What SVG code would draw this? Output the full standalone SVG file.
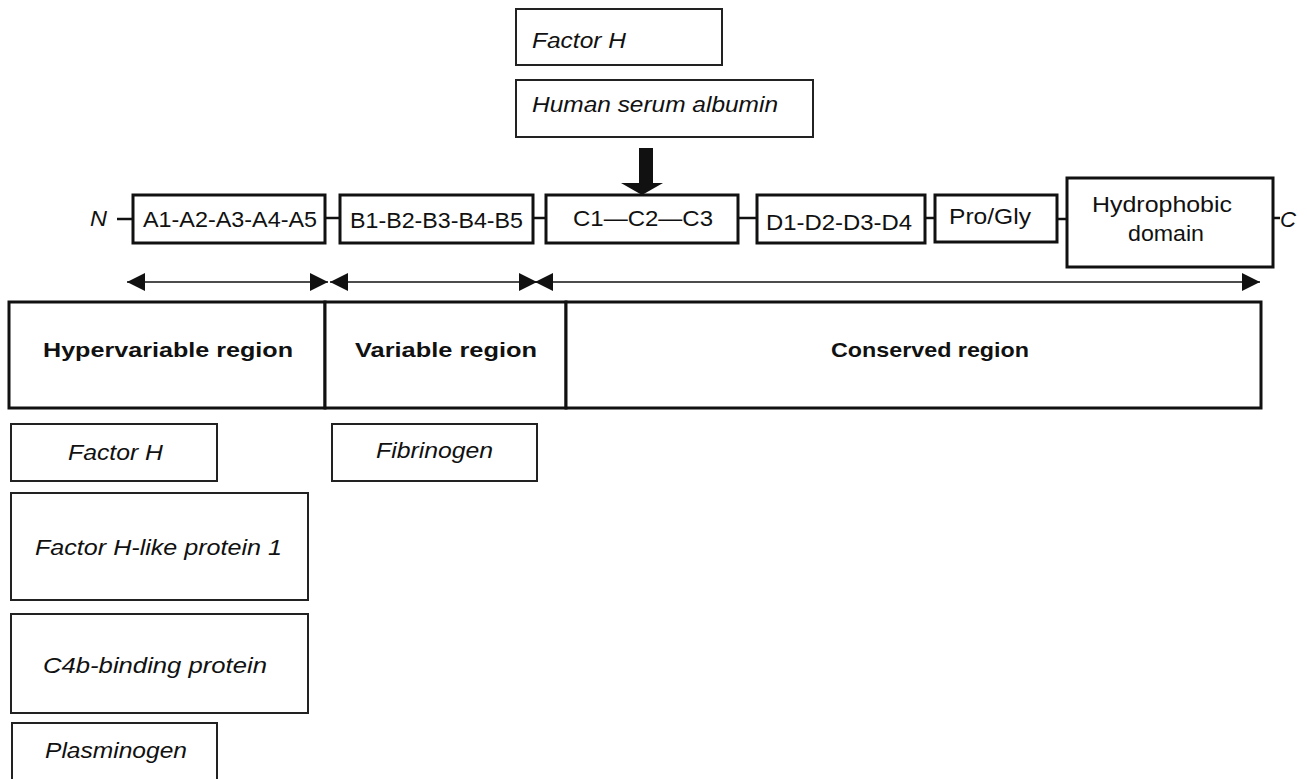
<svg xmlns="http://www.w3.org/2000/svg" width="1307" height="779" viewBox="0 0 1307 779">
<style>
text{font-family:"Liberation Sans",Arial,sans-serif;font-size:22px;fill:#111}
.it{font-style:italic}
.bd{font-weight:bold;font-size:21px}
.dom{fill:#fff;stroke:#111;stroke-width:3}
.reg{fill:#fff;stroke:#111;stroke-width:3}
.bind{fill:#fff;stroke:#222;stroke-width:2}
.link{stroke:#111;stroke-width:2.5;fill:none}
.span{stroke:#111;stroke-width:1.5;fill:none;marker-start:url(#ah);marker-end:url(#ah)}
</style>
<defs>
<marker id="ah" viewBox="0 0 18 18" refX="18" refY="9" markerWidth="18" markerHeight="18" markerUnits="userSpaceOnUse" orient="auto-start-reverse">
<path d="M0,0 L18,9 L0,18 z" fill="#111"/>
</marker>
</defs>

<g id="top-factorH"><rect class="bind" x="516" y="9" width="206" height="56"/><text class="it" x="532" y="48" textLength="94" lengthAdjust="spacingAndGlyphs">Factor H</text></g>
<g id="top-hsa"><rect class="bind" x="516" y="80" width="297" height="57"/><text class="it" x="532" y="112" textLength="246" lengthAdjust="spacingAndGlyphs">Human serum albumin</text></g>

<g id="N-term"><text class="it" x="90" y="226" textLength="17" lengthAdjust="spacingAndGlyphs">N</text></g>
<g id="A"><rect class="dom" x="133" y="195" width="192" height="48"/><text x="143" y="227" textLength="174" lengthAdjust="spacingAndGlyphs">A1-A2-A3-A4-A5</text></g>
<g id="B"><rect class="dom" x="340" y="195" width="193" height="48"/><text x="350" y="228" textLength="173" lengthAdjust="spacingAndGlyphs">B1-B2-B3-B4-B5</text></g>
<g id="C"><rect class="dom" x="546" y="195" width="192" height="48"/><text x="573" y="226" textLength="140" lengthAdjust="spacingAndGlyphs">C1—C2—C3</text></g>
<g id="D"><rect class="dom" x="757" y="195" width="168" height="48"/><text x="766" y="230" textLength="146" lengthAdjust="spacingAndGlyphs">D1-D2-D3-D4</text></g>
<g id="ProGly"><rect class="dom" x="935" y="195" width="122" height="47"/><text x="949" y="224" textLength="82" lengthAdjust="spacingAndGlyphs">Pro/Gly</text></g>
<g id="Hydrophobic"><rect class="dom" x="1067" y="178" width="206" height="89"/><text x="1162" y="212" text-anchor="middle" textLength="140" lengthAdjust="spacingAndGlyphs">Hydrophobic</text><text x="1166" y="241" text-anchor="middle" textLength="76" lengthAdjust="spacingAndGlyphs">domain</text></g>
<g id="C-term"><text class="it" x="1280" y="227" textLength="16" lengthAdjust="spacingAndGlyphs">C</text></g>

<g id="hypervariable"><rect class="reg" x="9" y="302" width="316" height="106"/><text class="bd" x="43" y="357" textLength="250" lengthAdjust="spacingAndGlyphs">Hypervariable region</text></g>
<g id="variable"><rect class="reg" x="325" y="302" width="241" height="106"/><text class="bd" x="355" y="357" textLength="182" lengthAdjust="spacingAndGlyphs">Variable region</text></g>
<g id="conserved"><rect class="reg" x="566" y="302" width="695" height="106"/><text class="bd" x="930" y="357" text-anchor="middle" textLength="198" lengthAdjust="spacingAndGlyphs">Conserved region</text></g>

<g id="low-factorH"><rect class="bind" x="11" y="424" width="206" height="57"/><text class="it" x="68" y="460" textLength="95" lengthAdjust="spacingAndGlyphs">Factor H</text></g>
<g id="fhl1"><rect class="bind" x="11" y="493" width="297" height="107"/><text class="it" x="35" y="555" textLength="247" lengthAdjust="spacingAndGlyphs">Factor H-like protein 1</text></g>
<g id="c4bp"><rect class="bind" x="11" y="614" width="297" height="99"/><text class="it" x="43" y="673" textLength="224" lengthAdjust="spacingAndGlyphs">C4b-binding protein</text></g>
<g id="plasminogen"><rect class="bind" x="12" y="723" width="205" height="70"/><text class="it" x="45" y="758" textLength="142" lengthAdjust="spacingAndGlyphs">Plasminogen</text></g>
<g id="fibrinogen"><rect class="bind" x="332" y="424" width="205" height="57"/><text class="it" x="376" y="458" textLength="117" lengthAdjust="spacingAndGlyphs">Fibrinogen</text></g>

<g id="connectors">
<line class="link" x1="117" y1="219" x2="133" y2="219"/>
<line class="link" x1="325" y1="218" x2="340" y2="218"/>
<line class="link" x1="533" y1="218" x2="546" y2="218"/>
<line class="link" x1="738" y1="218" x2="757" y2="218"/>
<line class="link" x1="925" y1="218" x2="935" y2="218"/>
<line class="link" x1="1057" y1="219" x2="1067" y2="219"/>
<line class="link" x1="1273" y1="218" x2="1280" y2="218"/>
<path d="M639,148 H653 V183 H663 L642,195 L621,183 H639 Z" fill="#111"/>
<line class="span" x1="127" y1="282" x2="328" y2="282"/>
<line class="span" x1="330" y1="282" x2="537" y2="282"/>
<line class="span" x1="535" y1="282" x2="1260" y2="282"/>
</g>
</svg>
